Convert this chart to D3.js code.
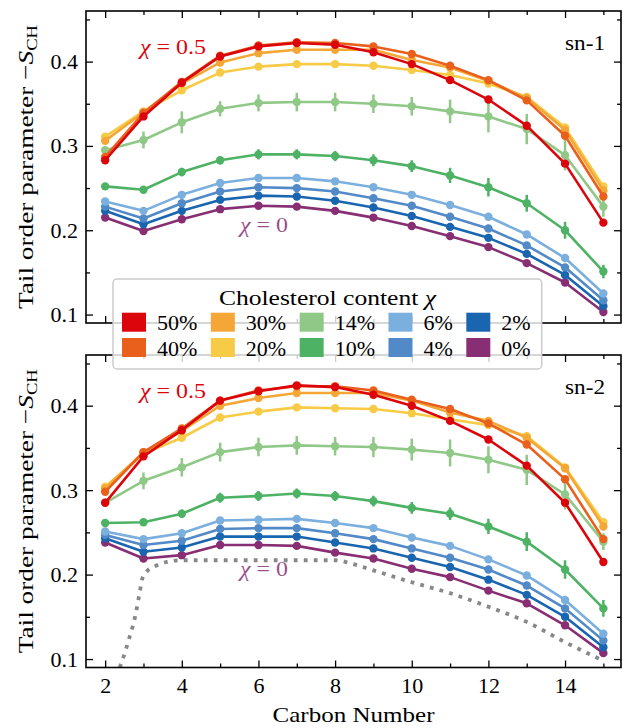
<!DOCTYPE html>
<html><head><meta charset="utf-8">
<script src="https://cdn.jsdelivr.net/npm/d3@7"></script>
<style>
body{margin:0;background:#fff}
svg{display:block}
text{font-family:"Liberation Serif","Times New Roman",serif}
</style>
</head><body>
<svg id="chart" width="623" height="728"></svg>
<script>
// ---------- data ----------
const carbons = [2,3,4,5,6,7,8,9,10,11,12,13,14,15];
const seriesLabels = ["50%","40%","30%","20%","14%","10%","6%","4%","2%","0%"];
const seriesColors = ["#DC050C","#E8601C","#F4A736","#F7CB45","#90C987","#4EB265","#7BAFDE","#5289C7","#1965B0","#882E72"];

const sn1_50 = [0.283,0.335,0.375,0.406,0.418,0.422,0.420,0.411,0.397,0.378,0.355,0.324,0.279,0.209];
const sn1_40 = [0.287,0.339,0.376,0.407,0.419,0.423,0.422,0.418,0.409,0.395,0.378,0.354,0.312,0.240];
const sn1_30 = [0.306,0.340,0.374,0.399,0.410,0.414,0.414,0.414,0.402,0.393,0.377,0.357,0.319,0.247];
const sn1_20 = [0.311,0.341,0.366,0.387,0.394,0.397,0.397,0.395,0.390,0.384,0.374,0.358,0.322,0.252];
const sn1_14 = [0.295,0.307,0.328,0.344,0.351,0.352,0.352,0.350,0.347,0.341,0.335,0.320,0.289,0.228];
const sn1_10 = [0.252,0.248,0.269,0.283,0.290,0.290,0.288,0.283,0.276,0.265,0.251,0.232,0.200,0.151];
const sn1_6  = [0.234,0.223,0.242,0.256,0.262,0.262,0.258,0.251,0.242,0.230,0.216,0.195,0.167,0.125];
const sn1_4  = [0.228,0.214,0.232,0.246,0.251,0.250,0.246,0.238,0.229,0.216,0.202,0.182,0.156,0.117];
const sn1_2  = [0.223,0.207,0.223,0.236,0.241,0.240,0.235,0.227,0.217,0.204,0.191,0.172,0.147,0.110];
const sn1_0  = [0.215,0.199,0.213,0.225,0.229,0.228,0.223,0.215,0.205,0.193,0.180,0.161,0.138,0.103];

const sn2_50 = [0.285,0.340,0.371,0.406,0.417,0.424,0.422,0.413,0.400,0.382,0.360,0.329,0.285,0.215];
const sn2_40 = [0.298,0.345,0.373,0.406,0.418,0.423,0.423,0.418,0.407,0.396,0.379,0.354,0.313,0.242];
const sn2_30 = [0.302,0.345,0.370,0.400,0.409,0.415,0.415,0.415,0.406,0.392,0.382,0.362,0.326,0.257];
const sn2_20 = [0.304,0.343,0.362,0.386,0.393,0.398,0.397,0.396,0.391,0.384,0.377,0.364,0.327,0.262];
const sn2_14 = [0.285,0.311,0.327,0.345,0.351,0.353,0.352,0.351,0.348,0.344,0.336,0.324,0.295,0.239];
const sn2_10 = [0.261,0.262,0.272,0.291,0.293,0.296,0.293,0.287,0.279,0.272,0.257,0.239,0.206,0.160];
const sn2_6  = [0.251,0.242,0.249,0.264,0.265,0.266,0.261,0.255,0.244,0.234,0.218,0.199,0.170,0.130];
const sn2_4  = [0.247,0.235,0.240,0.254,0.255,0.255,0.249,0.242,0.231,0.220,0.206,0.187,0.160,0.122];
const sn2_2  = [0.243,0.227,0.232,0.245,0.245,0.245,0.238,0.231,0.220,0.209,0.194,0.176,0.150,0.114];
const sn2_0  = [0.238,0.219,0.223,0.235,0.235,0.234,0.226,0.219,0.207,0.197,0.181,0.166,0.140,0.107];

// error bars (only visible for 14% and 10%)
const sn1_err14 = [0.004,0.010,0.013,0.009,0.010,0.011,0.011,0.011,0.011,0.014,0.019,0.018,0.018,0.012];
const sn1_err10 = [0.003,0.004,0.005,0.005,0.006,0.006,0.006,0.007,0.007,0.009,0.011,0.010,0.010,0.008];
const sn2_err14 = [0.003,0.010,0.011,0.011,0.011,0.011,0.011,0.012,0.013,0.016,0.016,0.018,0.018,0.010];
const sn2_err10 = [0.003,0.004,0.005,0.006,0.006,0.006,0.006,0.0065,0.007,0.0075,0.009,0.011,0.011,0.010];

// dotted reference curve (sn-2 panel)
const refCarbon = [2.38,2.43,2.61,2.78,2.91,2.96,3.09,3.35,3.61,3.96,5,6,7,8,8.5,9,10,11,12,13,14,15];
const refValue  = [0.090,0.096,0.122,0.150,0.181,0.194,0.204,0.211,0.215,0.217,0.217,0.217,0.217,0.217,0.212,0.205,0.191,0.178,0.162,0.144,0.120,0.098];

const xTicksMajor = [2,4,6,8,10,12,14];
const xTicksMinor = [3,5,7,9,11,13,15];
const yTicksMajor = [0.1,0.2,0.3,0.4];
const yTicksMinor = [0.15,0.25,0.35,0.45];

const panelNames = ["sn-1","sn-2"];
const panelSeries = [
  [sn1_50,sn1_40,sn1_30,sn1_20,sn1_14,sn1_10,sn1_6,sn1_4,sn1_2,sn1_0],
  [sn2_50,sn2_40,sn2_30,sn2_20,sn2_14,sn2_10,sn2_6,sn2_4,sn2_2,sn2_0]
];
const panelErrors = [
  {"14%":sn1_err14,"10%":sn1_err10},
  {"14%":sn2_err14,"10%":sn2_err10}
];

// ---------- layout ----------
const svg = d3.select("#chart");
const L = 86, R = 621;
const panels = [{top:11,bottom:323},{top:355,bottom:667.5}];
const FS = 22;
const x = d3.scaleLinear().domain([1.5,15.46]).range([L,R]);

panels.forEach((p,pi)=>{
  const y = d3.scaleLinear().domain([0.09,0.46]).range([p.bottom,p.top]);
  const g = svg.append("g");
  const clipId = "clip"+pi;
  svg.append("clipPath").attr("id",clipId).append("rect")
    .attr("x",L).attr("y",p.top).attr("width",R-L).attr("height",p.bottom-p.top);
  const plot = g.append("g").attr("clip-path",`url(#${clipId})`);

  if(pi===1){
    const refPts = refCarbon.map((c,i)=>[c,refValue[i]]);
    plot.append("path").datum(refPts)
      .attr("d",d3.line().x(d=>x(d[0])).y(d=>y(d[1])).curve(d3.curveMonotoneX))
      .attr("fill","none").attr("stroke","#888888").attr("stroke-width",3.8)
      .attr("stroke-dasharray","3.8,6.2");
  }

  const line = d3.line().x(d=>x(d[0])).y(d=>y(d[1]));
  for(let si=seriesLabels.length-1; si>=0; si--){
    const vals = panelSeries[pi][si];
    const col = seriesColors[si];
    const pts = carbons.map((c,i)=>[c,vals[i]]);
    const err = panelErrors[pi][seriesLabels[si]];
    const sg = plot.append("g");
    if(err){
      sg.selectAll("line.err").data(pts).enter().append("line")
        .attr("x1",d=>x(d[0])).attr("x2",d=>x(d[0]))
        .attr("y1",(d,i)=>y(d[1]-err[i])).attr("y2",(d,i)=>y(d[1]+err[i]))
        .attr("stroke",col).attr("stroke-width",2.5);
    }
    sg.append("path").datum(pts).attr("d",line)
      .attr("fill","none").attr("stroke",col).attr("stroke-width",2.6)
      .attr("stroke-linejoin","round");
    sg.selectAll("circle").data(pts).enter().append("circle")
      .attr("cx",d=>x(d[0])).attr("cy",d=>y(d[1])).attr("r",4.2).attr("fill",col);
  }

  const styleAxis = sel => {
    sel.select(".domain").remove();
    sel.selectAll("line").attr("stroke","#000").attr("stroke-width",1.3);
    sel.selectAll("text").attr("font-family",'"Liberation Serif",serif').attr("font-size",FS).attr("fill","#000");
  };
  g.append("g").attr("transform",`translate(0,${p.bottom})`)
    .call(d3.axisBottom(x).tickValues(xTicksMajor).tickSize(-7).tickPadding(10)
      .tickFormat(pi===1 ? d3.format("d") : ()=>"")).call(styleAxis);
  g.append("g").attr("transform",`translate(0,${p.bottom})`)
    .call(d3.axisBottom(x).tickValues(xTicksMinor).tickSize(-4).tickFormat(()=>"")).call(styleAxis);
  g.append("g").attr("transform",`translate(0,${p.top})`)
    .call(d3.axisTop(x).tickValues(xTicksMajor).tickSize(-7).tickFormat(()=>"")).call(styleAxis);
  g.append("g").attr("transform",`translate(0,${p.top})`)
    .call(d3.axisTop(x).tickValues(xTicksMinor).tickSize(-4).tickFormat(()=>"")).call(styleAxis);
  g.append("g").attr("transform",`translate(${L},0)`)
    .call(d3.axisLeft(y).tickValues(yTicksMajor).tickSize(-7).tickPadding(8).tickFormat(d3.format(".1f"))).call(styleAxis);
  g.append("g").attr("transform",`translate(${L},0)`)
    .call(d3.axisLeft(y).tickValues(yTicksMinor).tickSize(-4).tickFormat(()=>"")).call(styleAxis);
  g.append("g").attr("transform",`translate(${R},0)`)
    .call(d3.axisRight(y).tickValues(yTicksMajor).tickSize(-7).tickFormat(()=>"")).call(styleAxis);
  g.append("g").attr("transform",`translate(${R},0)`)
    .call(d3.axisRight(y).tickValues(yTicksMinor).tickSize(-4).tickFormat(()=>"")).call(styleAxis);

  g.append("rect").attr("x",L).attr("y",p.top).attr("width",R-L).attr("height",p.bottom-p.top)
    .attr("fill","none").attr("stroke","#000").attr("stroke-width",1.6);

  // annotations
  const a1 = g.append("text").attr("x",140).attr("y",p.top+43).attr("font-size",FS).attr("fill","#DC050C")
    .attr("textLength",66).attr("lengthAdjust","spacingAndGlyphs");
  a1.append("tspan").attr("font-style","italic").text("χ");
  a1.append("tspan").text(" = 0.5");
  const a0 = g.append("text").attr("x",240).attr("y",p.top+221).attr("font-size",FS).attr("fill","#882E72").attr("fill-opacity",0.85)
    .attr("textLength",48).attr("lengthAdjust","spacingAndGlyphs");
  a0.append("tspan").attr("font-style","italic").text("χ");
  a0.append("tspan").text(" = 0");
  g.append("text").attr("x",605).attr("y",p.top+38.5).attr("text-anchor","end").attr("font-size",FS)
    .attr("textLength",40).attr("lengthAdjust","spacingAndGlyphs").text(panelNames[pi]);

  // y label
  const yl = g.append("text").attr("transform",`translate(33,${(p.top+p.bottom)/2}) rotate(-90)`)
    .attr("text-anchor","middle").attr("font-size",FS)
    .attr("textLength",284).attr("lengthAdjust","spacingAndGlyphs");
  yl.append("tspan").text("Tail order parameter −");
  yl.append("tspan").attr("font-style","italic").text("S");
  yl.append("tspan").attr("font-size",15).attr("dy",4).text("CH");
});

// x label
svg.append("text").attr("x",(L+R)/2).attr("y",722).attr("text-anchor","middle").attr("font-size",FS)
  .attr("textLength",162).attr("lengthAdjust","spacingAndGlyphs").text("Carbon Number");

// ---------- legend ----------
const lg = svg.append("g");
lg.append("rect").attr("x",113).attr("y",279).attr("width",428.7).attr("height",90).attr("rx",4)
  .attr("fill","#fff").attr("fill-opacity",0.8).attr("stroke","#cccccc").attr("stroke-width",1.5);
const lt = lg.append("text").attr("x",327.4).attr("y",305).attr("text-anchor","middle").attr("font-size",FS)
  .attr("textLength",217).attr("lengthAdjust","spacingAndGlyphs");
lt.append("tspan").text("Cholesterol content ");
lt.append("tspan").attr("font-style","italic").text("χ");
let colX = 122;
for(let c=0;c<5;c++){
  let maxW = 0;
  for(let r=0;r<2;r++){
    const i = c*2+r;
    const yTop = 312.7 + r*25.3;
    lg.append("rect").attr("x",colX).attr("y",yTop).attr("width",24).attr("height",19).attr("fill",seriesColors[i]);
    const t = lg.append("text").attr("x",colX+35).attr("y",yTop+17.5).attr("font-size",FS).text(seriesLabels[i]);
    maxW = Math.max(maxW, t.node().getComputedTextLength());
  }
  colX += 24 + 11 + maxW + 13.5;
}
</script>
</body></html>
